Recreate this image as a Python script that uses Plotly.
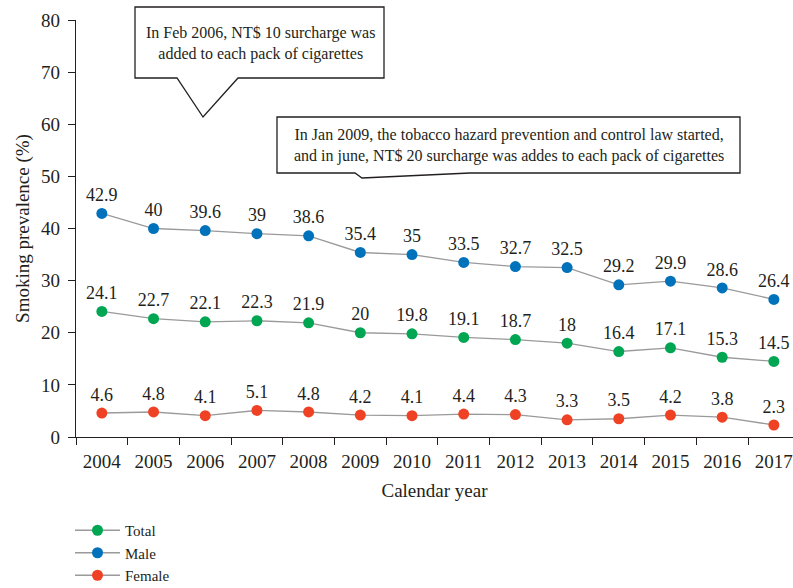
import plotly.graph_objects as go

years = ["2004", "2005", "2006", "2007", "2008", "2009", "2010",
         "2011", "2012", "2013", "2014", "2015", "2016", "2017"]
total = [24.1, 22.7, 22.1, 22.3, 21.9, 20, 19.8, 19.1, 18.7, 18, 16.4, 17.1, 15.3, 14.5]
male = [42.9, 40, 39.6, 39, 38.6, 35.4, 35, 33.5, 32.7, 32.5, 29.2, 29.9, 28.6, 26.4]
female = [4.6, 4.8, 4.1, 5.1, 4.8, 4.2, 4.1, 4.4, 4.3, 3.3, 3.5, 4.2, 3.8, 2.3]
series_names = ["Total", "Male", "Female"]
series_colors = ["#00A651", "#0072BC", "#EF4123"]
note1 = "In Feb 2006, NT$ 10 surcharge was<br>added to each pack of cigarettes"
note2 = ("In Jan 2009, the tobacco hazard prevention and control law started,<br>"
         "and in june, NT$ 20 surcharge was addes to each pack of cigarettes")

FONT = "Liberation Serif"
W, H = 793, 588
L, R, T, B = 76, 793, 20, 437

def px(x):
    return (x - L) / (R - L)

def py(y):
    return (B - y) / (B - T)

fig = go.Figure()
for name, vals, col in zip(series_names, [total, male, female], series_colors):
    fig.add_trace(go.Scatter(
        x=years, y=vals, name=name, mode="lines+markers+text",
        text=[f"{v:g}" for v in vals], textposition="top center",
        textfont=dict(family=FONT, size=18, color="#231F20"),
        line=dict(color="#9A9A9A", width=1.3),
        marker=dict(color=col, size=11),
        cliponaxis=False,
    ))

def path(points):
    return "M " + " L ".join(f"{px(x):.5f},{py(y):.5f}" for x, y in points) + " Z"

box1 = [(135, 7), (384, 7), (384, 78), (238, 78), (203, 117), (177, 78), (135, 78)]
box2 = [(277, 117), (740, 117), (740, 173), (470, 173), (362, 178), (355, 173), (277, 173)]
for pts in (box1, box2):
    fig.add_shape(type="path", path=path(pts), xref="paper", yref="paper",
                  line=dict(color="#231F20", width=1.3), fillcolor="white", layer="above")

fig.add_annotation(x=px(260), y=py(43), xref="paper", yref="paper", text=note1,
                   xanchor="center", yanchor="middle",
                   showarrow=False, font=dict(family=FONT, size=16, color="#231F20"),
                   align="center")
fig.add_annotation(x=px(509), y=py(145), xref="paper", yref="paper", text=note2,
                   xanchor="center", yanchor="middle",
                   showarrow=False, font=dict(family=FONT, size=16, color="#231F20"),
                   align="center")

fig.update_layout(
    width=W, height=H,
    margin=dict(l=L, r=W - R, t=T, b=H - B, autoexpand=False),
    paper_bgcolor="white", plot_bgcolor="white",
    font=dict(family=FONT, color="#231F20"),
    showlegend=True,
    legend=dict(x=px(70), y=py(514), xanchor="left", yanchor="top",
                font=dict(family=FONT, size=15), tracegroupgap=0, itemwidth=45),
    xaxis=dict(type="category", range=[-0.5, 13.37], tickson="boundaries",
               ticks="outside", ticklen=7, tickcolor="#231F20", automargin=False,
               showline=True, linecolor="#231F20", linewidth=1.3,
               showgrid=False, tickfont=dict(size=19), ticklabelstandoff=7,
               title=dict(text="Calendar year", font=dict(size=19), standoff=12)),
    yaxis=dict(range=[0, 80], dtick=10, ticks="outside", ticklen=7, automargin=False,
               tickcolor="#231F20", showline=True, linecolor="#231F20",
               linewidth=1.3, showgrid=False, zeroline=False,
               tickfont=dict(size=19), ticklabelstandoff=4,
               title=dict(text="Smoking prevalence (%)", font=dict(size=19), standoff=6)),
)

fig.write_html("out.html", config={"displayModeBar": False},
               post_script="document.body.style.margin='0';")
